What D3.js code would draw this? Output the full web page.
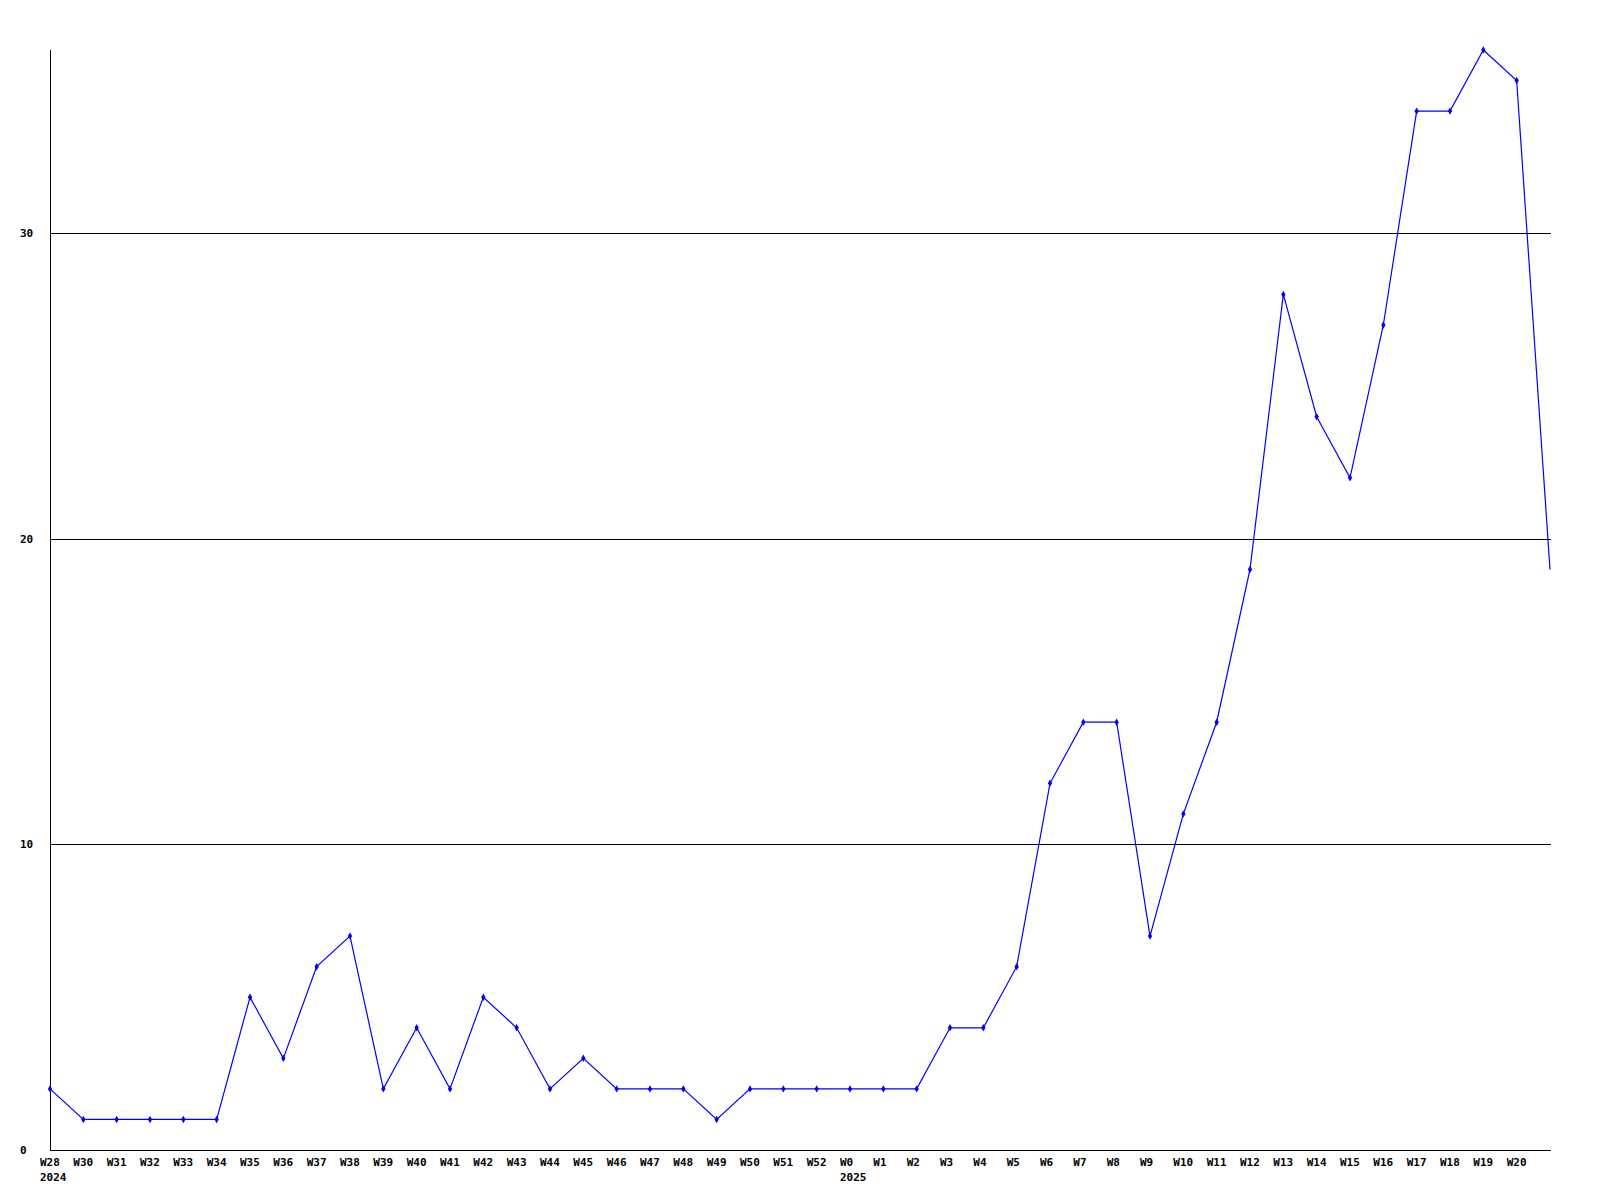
<!DOCTYPE html>
<html>
<head>
<meta charset="utf-8">
<script src="https://cdn.jsdelivr.net/npm/d3@7"></script>
<style>
  html, body { margin: 0; padding: 0; background: #fff; }
  svg { display: block; }
  text { font-family: "DejaVu Sans Mono", "Liberation Mono", monospace; font-weight: bold; font-size: 11px; fill: #000; }
</style>
</head>
<body>
<svg id="chart" width="1600" height="1200"></svg>
<script>
const weeks = ["W28","W30","W31","W32","W33","W34","W35","W36","W37","W38","W39","W40","W41","W42","W43","W44","W45","W46","W47","W48","W49","W50","W51","W52","W0","W1","W2","W3","W4","W5","W6","W7","W8","W9","W10","W11","W12","W13","W14","W15","W16","W17","W18","W19","W20",""];
const years = {"W28": "2024", "W0": "2025"};
const values = [2,1,1,1,1,1,5,3,6,7,2,4,2,5,4,2,3,2,2,2,1,2,2,2,2,2,2,4,4,6,12,14,14,7,11,14,19,28,24,22,27,34,34,36,35,19];
const yTicks = [0,10,20,30];

(function () {
const svg = d3.select("#chart");
const pl = 50, pr = 1550, pt = 50, pb = 1150;

const x = d3.scalePoint().domain(d3.range(values.length)).range([pl, pr]);
const y = d3.scaleLinear().domain([0, 36]).range([pb, pt]);

// gridlines
svg.append("g").selectAll("line").data(yTicks.filter(t => t > 0)).join("line")
  .attr("x1", pl).attr("x2", pr + 1)
  .attr("y1", d => Math.round(y(d)) + 0.5).attr("y2", d => Math.round(y(d)) + 0.5)
  .attr("stroke", "#000").attr("stroke-width", 1);

// axes
svg.append("line").attr("x1", pl + 0.5).attr("x2", pl + 0.5).attr("y1", pt).attr("y2", pb + 1)
  .attr("stroke", "#000");
svg.append("line").attr("x1", pl).attr("x2", pr + 1).attr("y1", pb + 0.5).attr("y2", pb + 0.5)
  .attr("stroke", "#000");

// y labels
svg.append("g").selectAll("text").data(yTicks).join("text")
  .attr("x", 20).attr("y", d => y(d)).attr("dy", "0.35em")
  .text(d => d);

// x labels
const xl = svg.append("g");
weeks.forEach((w, i) => {
  if (!w) return;
  xl.append("text").attr("x", x(i) - 10).attr("y", 1166).text(w);
  if (years[w]) xl.append("text").attr("x", x(i) - 10).attr("y", 1181).text(years[w]);
});

// line
const line = d3.line().x((d, i) => x(i)).y(d => y(d));
svg.append("path").datum(values).attr("d", line)
  .attr("fill", "none").attr("stroke", "#0000ff").attr("stroke-width", 1.2);

// markers (the last, partial week has none)
svg.append("g").selectAll("path").data(values.slice(0, -1)).join("path")
  .attr("transform", (d, i) => `translate(${x(i)},${y(d)})`)
  .attr("d", d3.symbol().type(d3.symbolDiamond).size(16))
  .attr("fill", "#0000ff");
})();
</script>
</body>
</html>
